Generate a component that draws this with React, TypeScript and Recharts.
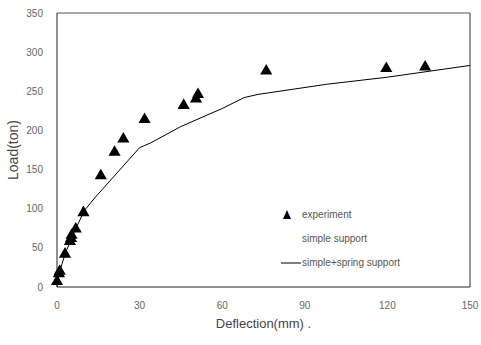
import React from "react";
import { ComposedChart, Line, Scatter, XAxis, YAxis, Legend, ReferenceLine } from "recharts";

const expDeflection = [0, 0.7, 1, 2.9, 4.7, 5.1, 5.3, 6.8, 9.6, 15.9, 20.9, 24.1, 31.8, 46, 50.5, 51.2, 76, 119.6, 133.7];
const expLoad = [7, 17, 20, 42, 58, 62, 66, 74, 95, 142, 172, 189, 214, 232, 240, 246, 276, 279, 281];

const springDeflection = [0, 1, 3, 7, 10, 14, 30, 34, 45, 60, 68, 73, 98, 120, 150];
const springLoad = [0, 20, 43, 76, 98, 115, 178, 184, 205, 228, 242, 246, 259, 268, 283];

const xTicks = [0, 30, 60, 90, 120, 150];
const yTicks = [0, 50, 100, 150, 200, 250, 300, 350];

const expData = expDeflection.map((d, i) => ({ defl: d, load: expLoad[i] }));
const springData = springDeflection.map((d, i) => ({ defl: d, load: springLoad[i] }));

const font = "Liberation Sans, Arial, sans-serif";
const tickStyle = { fill: "#666", fontSize: 10, fontFamily: font };

const LegendBox = () => (
  <div
    style={{
      position: "absolute",
      left: 280,
      top: 203,
      fontFamily: font,
      fontSize: 10,
      color: "#555",
      lineHeight: "24px",
      whiteSpace: "nowrap",
    }}
  >
    <div style={{ display: "flex", alignItems: "center" }}>
      <svg width={22} height={12}>
        <polygon points="7,1 11,10 3,10" fill="#000" />
      </svg>
      <span>experiment</span>
    </div>
    <div style={{ display: "flex", alignItems: "center" }}>
      <span style={{ display: "inline-block", width: 22 }} />
      <span>simple support</span>
    </div>
    <div style={{ display: "flex", alignItems: "center" }}>
      <svg width={22} height={12}>
        <line x1={1} y1={6} x2={21} y2={6} stroke="#000" strokeWidth={1} />
      </svg>
      <span>simple+spring support</span>
    </div>
  </div>
);

export default function App() {
  return (
    <div style={{ position: "absolute", left: 0, top: 0, background: "#fff" }}>
      <ComposedChart width={481} height={345} margin={{ top: 13, right: 11, left: 0, bottom: 0 }}>
        <XAxis
          dataKey="defl"
          type="number"
          domain={[0, 150]}
          ticks={xTicks}
          tickLine={false}
          tickMargin={9}
          tick={tickStyle}
          height={58}
          stroke="#222"
          label={{
            value: "Deflection(mm)   .",
            position: "insideBottom",
            offset: 17,
            style: { fill: "#444", fontSize: 13, fontFamily: font },
          }}
        />
        <YAxis
          type="number"
          domain={[0, 350]}
          ticks={yTicks}
          tickLine={false}
          tickMargin={8}
          tick={tickStyle}
          width={57}
          stroke="#222"
          label={{
            value: "Load(ton)",
            angle: -90,
            position: "insideLeft",
            offset: 13,
            style: { fill: "#444", fontSize: 14, fontFamily: font, textAnchor: "middle" },
          }}
        />
        <ReferenceLine y={350} stroke="#555" strokeWidth={1} />
        <ReferenceLine x={150} stroke="#333" strokeWidth={1} />
        <Line
          data={springData}
          dataKey="load"
          type="linear"
          stroke="#000"
          strokeWidth={1}
          dot={false}
          isAnimationActive={false}
        />
        <Scatter
          data={expData}
          dataKey="load"
          shape="triangle"
          size={45}
          fill="#000"
          legendType="triangle"
          isAnimationActive={false}
        />
        <Legend content={() => <LegendBox />} wrapperStyle={{ position: "absolute", left: 0, top: 0, width: 0, height: 0 }} />
      </ComposedChart>
    </div>
  );
}
